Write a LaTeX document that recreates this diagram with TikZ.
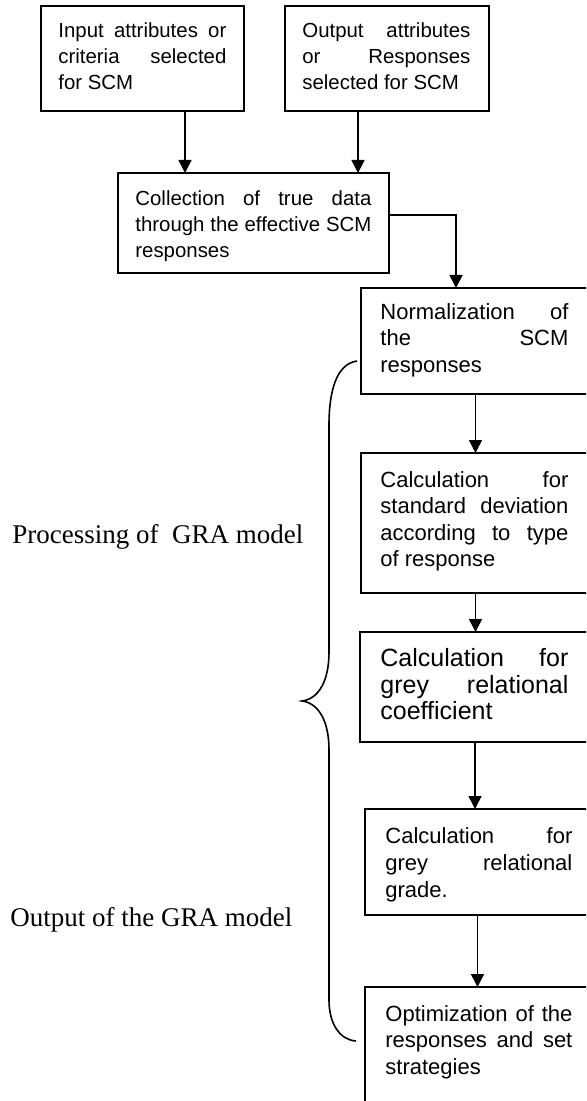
\documentclass[tikz,border=0pt]{standalone}
\usepackage{fontspec}
\setmainfont{Liberation Sans}
\newfontfamily\gramodelfont{Liberation Serif}
\usetikzlibrary{arrows.meta}
\newcommand{\pxLen}{0.5pt}
\tikzset{
  chart/.style = {x=0.5pt, y=-0.5pt},
  stepStyle/.style = {draw, line width=0.75pt, anchor=north west, inner sep=0pt, outer sep=0pt},
  stepTextStyle/.style = {anchor=north west, inner sep=0pt, align=justify},
  arrowStyle/.style = {line width=0.75pt, -{Triangle[width=6.5pt,length=6.5pt]}},
  braceStyle/.style = {line width=0.8pt},
  sideTextStyle/.style = {anchor=base west, inner sep=0pt, font=\gramodelfont\fontsize{13.5}{16}\selectfont}
}
\newcommand{\stepFrame}[5]{\node [stepStyle, minimum width=#4*\pxLen, minimum height=#5*\pxLen] (#1) at (#2,#3) {};}
\newcommand{\stepText}[7]{\node [stepTextStyle, text width=#4*\pxLen, font=\fontsize{#5}{#6}\selectfont] (#1) at (#2,#3) {#7};}
\begin{document}
\begin{tikzpicture}[chart]
  \useasboundingbox (0,0) rectangle (586,1101);
  \clip (0,0) rectangle (586,1101);
  % frames
  \stepFrame{input}{41}{6}{203}{105}
  \stepFrame{output}{285}{6}{204}{105}
  \stepFrame{collect}{118}{173}{271}{100}
  \stepFrame{norm}{361}{288}{229}{106}
  \stepFrame{dev}{361}{453}{229}{140}
  \stepFrame{coeff}{360}{632}{230}{110}
  \stepFrame{grade}{365}{809}{225}{106}
  \stepFrame{optim}{365}{987}{225}{140}
  % texts
  \stepText{inputText}{58}{22}{168}{10.2}{13}{Input attributes or\linebreak criteria selected\linebreak for SCM}
  \stepText{outputText}{302}{22}{168}{10.2}{13}{Output attributes\linebreak or Responses\linebreak selected for SCM}
  \stepText{collectText}{135}{190}{236}{10.2}{13}{Collection of true data\linebreak through the effective SCM\linebreak responses}
  \stepText{normText}{380}{303}{188}{11}{13.3}{Normalization of\linebreak the SCM\linebreak responses}
  \stepText{devText}{380}{471}{188}{11}{13.2}{Calculation for\linebreak standard deviation\linebreak according to type\linebreak of response}
  \stepText{coeffText}{380}{648}{188}{12.5}{13.3}{Calculation for\linebreak grey relational\linebreak coefficient}
  \stepText{gradeText}{385}{827}{187}{11}{13.6}{Calculation for\linebreak grey relational\linebreak grade.}
  \stepText{optimText}{385}{1005}{187}{11}{13.3}{Optimization of the\linebreak responses and set\linebreak strategies}
  % arrows
  \draw [arrowStyle] ([xshift=21.25pt]input.south) -- ([xshift=21.25pt]input.south |- collect.north);
  \draw [arrowStyle] ([xshift=-14.5pt]output.south) -- ([xshift=-14.5pt]output.south |- collect.north);
  \draw [arrowStyle] ([yshift=4pt]collect.east) -| ([xshift=-9.75pt]norm.north);
  \draw [arrowStyle] (norm.south) -- (norm.south |- dev.north);
  \draw [arrowStyle] (dev.south) -- (dev.south |- coeff.north);
  \draw [arrowStyle] (coeff.south) -- (coeff.south |- grade.north);
  \draw [arrowStyle] (grade.south) -- (grade.south |- optim.north);
  % brace
  \draw [braceStyle] (357,361) .. controls (336,364) and (329,392) .. (329,425) -- (329,652)
    .. controls (329,682) and (318,699) .. (302,701) .. controls (318,703) and (329,720) .. (329,750)
    -- (329,1000) .. controls (329,1024) and (340,1040) .. (356,1041);
  % side labels
  \node [sideTextStyle] (processLabel) at (12,543) {Processing of\ \ GRA model};
  \node [sideTextStyle] (resultLabel) at (10,926) {Output of the GRA model};
\end{tikzpicture}
\end{document}
